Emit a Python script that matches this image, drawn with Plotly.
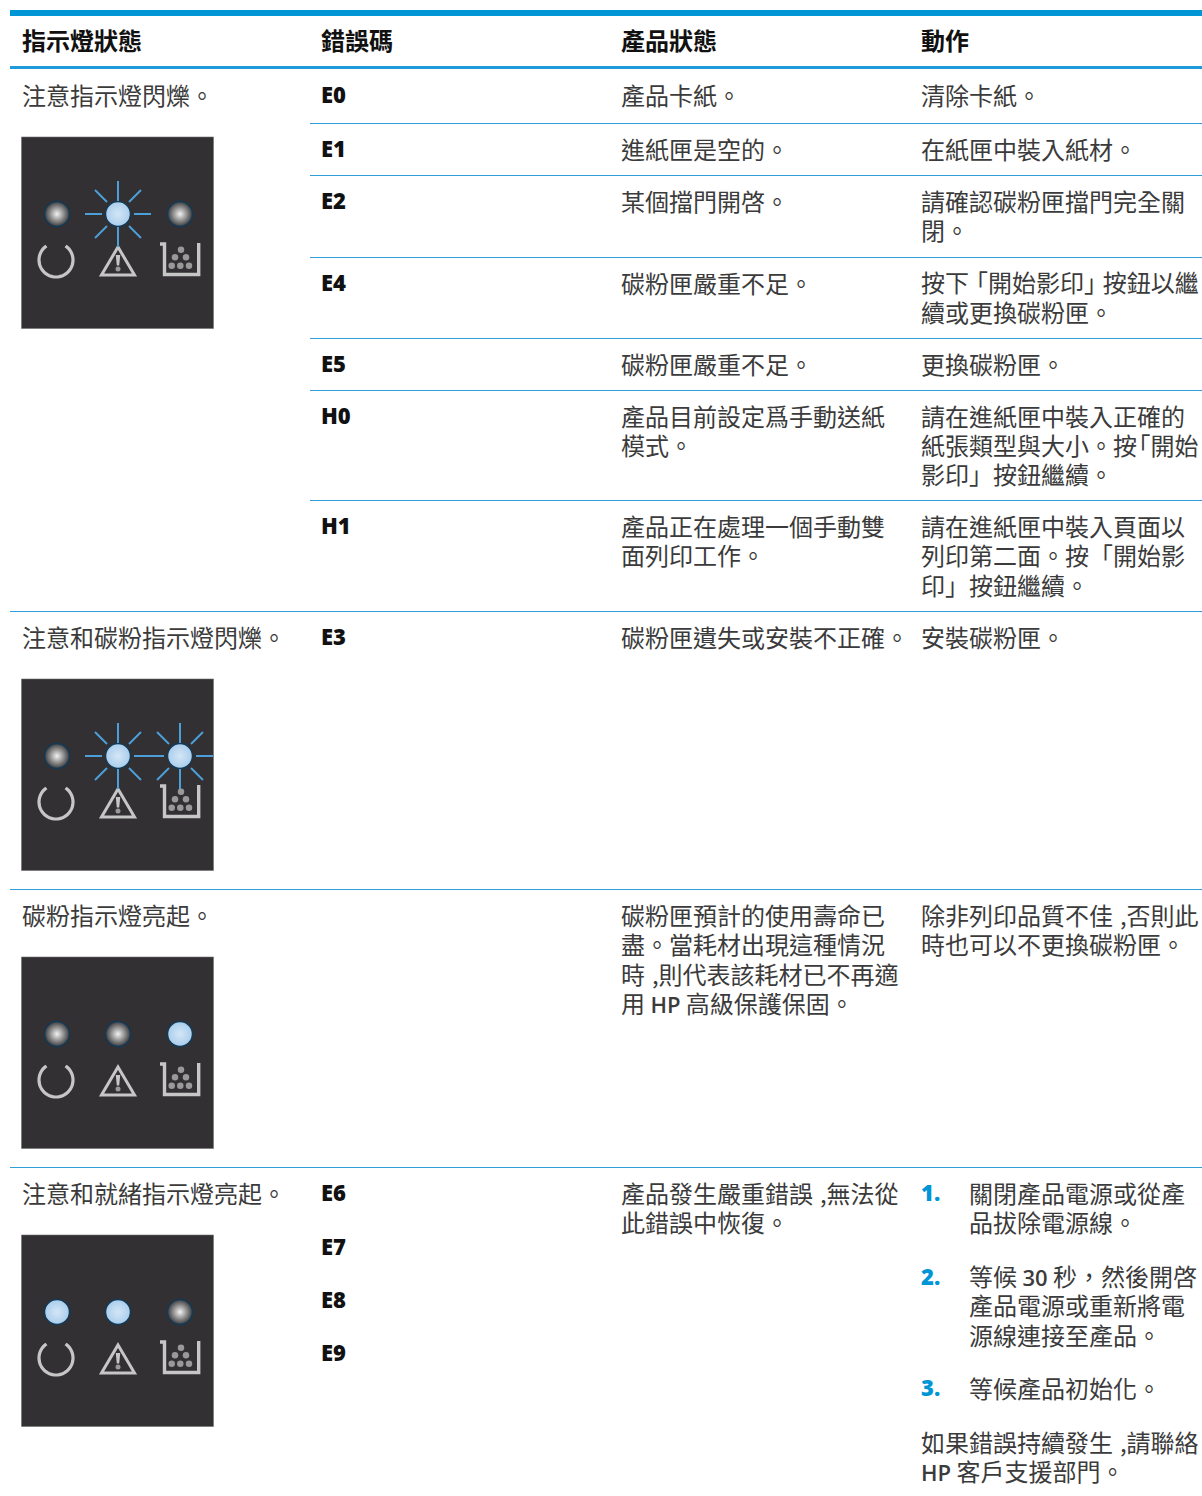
import math
import plotly.graph_objects as go

HEADERS = ["指示燈狀態", "錯誤碼", "產品狀態", "動作"]
HEADER_X = [22, 321, 621, 921]

LIGHT_STATUS = ["注意指示燈閃爍。", "注意和碳粉指示燈閃爍。", "碳粉指示燈亮起。", "注意和就緒指示燈亮起。"]
LIGHT_STATUS_Y = [96, 638, 916, 1194]

CODES = ["E0", "E1", "E2", "E4", "E5", "H0", "H1", "E3", "E6", "E7", "E8", "E9"]
CODES_Y = [96, 150, 202, 284, 365, 417, 527, 638, 1194, 1248, 1301, 1354]

HP = "<span style=\"font-family:'Open Sans';font-weight:600;font-size:22px\">HP</span>"
THIRTY = "<span style=\"font-family:'Open Sans';font-weight:600;font-size:22px\">30</span>"

STATE_TEXT = [
    (96, "產品卡紙。"), (150, "進紙匣是空的。"), (202, "某個擋門開啓。"),
    (284, "碳粉匣嚴重不足。"), (365, "碳粉匣嚴重不足。"),
    (417, "產品目前設定爲手動送紙"), (446, "模式。"),
    (527, "產品正在處理一個手動雙"), (556, "面列印工作。"),
    (638, "碳粉匣遺失或安裝不正確。"),
    (916, "碳粉匣預計的使用壽命已"), (945, "盡。當耗材出現這種情況"),
    (975, "時 \u200a,則代表該耗材已不再適"), (1004, f"用 {HP} 高級保護保固。"),
    (1194, "產品發生嚴重錯誤 \u200a,無法從"), (1223, "此錯誤中恢復。"),
]
ACTION_TEXT = [
    (96, "清除卡紙。"), (150, "在紙匣中裝入紙材。"),
    (202, "請確認碳粉匣擋門完全關"), (231, "閉。"),
    (283, "按下 \u200a｢開始影印｣\u200a 按鈕以繼"), (313, "續或更換碳粉匣。"),
    (365, "更換碳粉匣。"),
    (417, "請在進紙匣中裝入正確的"), (446, "紙張類型與大小。按\u200a｢開始"), (475, "影印」按鈕繼續。"),
    (527, "請在進紙匣中裝入頁面以"), (556, "列印第二面。按「開始影"), (586, "印」按鈕繼續。"),
    (638, "安裝碳粉匣。"),
    (916, "除非列印品質不佳 \u200a,否則此"), (945, "時也可以不更換碳粉匣。"),
    (1443, "如果錯誤持續發生 \u200a,請聯絡"), (1472, f"{HP} 客戶支援部門。"),
]
STEP_NUMBERS = [(1194, "1."), (1278, "2."), (1389, "3.")]
STEP_TEXT = [
    (1194, "關閉產品電源或從產"), (1223, "品拔除電源線。"),
    (1277, f"等候 {THIRTY} 秒，然後開啓"), (1306, "產品電源或重新將電"), (1336, "源線連接至產品。"),
    (1389, "等候產品初始化。"),
]

SUB_RULES = [123, 175, 257, 338, 390, 500]
MAIN_RULES = [611, 889, 1167]

PANEL_TOPS = [137, 679, 957, 1235]
# LED states per panel: (ready, attention, toner); 0 off, 1 on, 2 blinking
LED_STATES = [(0, 2, 0), (0, 2, 2), (0, 0, 1), (1, 1, 0)]

BLUE = "#0096D6"
RULE = "#2E9FDB"
INK = "#3b3b3b"
CJK = "'Noto Sans CJK TC', 'Noto Sans CJK JP', sans-serif"
LATIN = "'Open Sans', 'Noto Sans', sans-serif"

shapes = []
ann = []


def text(x, y, s, size=24, color=INK, family=CJK, weight=400):
    ann.append(dict(x=x, y=y, text=s, xref="x", yref="y", xanchor="left", yanchor="middle",
                    showarrow=False, xshift=-2, yshift=2,
                    font=dict(size=size, color=color, family=family, weight=weight)))


def line(x0, y0, x1, y1, color, width, layer="above"):
    shapes.append(dict(type="line", xref="x", yref="y", x0=x0, y0=y0, x1=x1, y1=y1, layer=layer,
                       line=dict(color=color, width=width)))


def rect(x0, y0, x1, y1, color):
    shapes.append(dict(type="rect", xref="x", yref="y", x0=x0, y0=y0, x1=x1, y1=y1, layer="below",
                       fillcolor=color, line=dict(width=0)))


# table rules
rect(10, 10, 1202, 16, BLUE)
rect(10, 66, 1202, 69, "#1E9BD8")
for y in SUB_RULES:
    line(310, y + 0.5, 1202, y + 0.5, RULE, 1, "below")
for y in MAIN_RULES:
    line(10, y + 0.5, 1202, y + 0.5, RULE, 1, "below")

# texts
for x, h in zip(HEADER_X, HEADERS):
    text(x, 41, h, weight=700, color="#111111")
for y, s in zip(LIGHT_STATUS_Y, LIGHT_STATUS):
    text(22, y, s)
for y, s in zip(CODES_Y, CODES):
    text(321, y, s, size=22, color="#111111", family=LATIN, weight=800)
for y, s in STATE_TEXT:
    text(621, y, s)
for y, s in ACTION_TEXT:
    text(921, y, s)
for y, s in STEP_NUMBERS:
    text(921, y, s, size=22, color=BLUE, family=LATIN, weight=800)
for y, s in STEP_TEXT:
    text(969, y, s)

# indicator panels
LED_X = [57, 118, 180]
ICON = "#C6C6C6"
RAY = "#4C9FD9"


def ring_path(cx, cy, r, start_deg, end_deg, n=48):
    pts = []
    for i in range(n + 1):
        a = math.radians(start_deg + (end_deg - start_deg) * i / n)
        pts.append((cx + r * math.cos(a), cy + r * math.sin(a)))
    return "M " + " L ".join(f"{px:.2f} {py:.2f}" for px, py in pts)


dots_x, dots_y, dots_s = [], [], []
for top, states in zip(PANEL_TOPS, LED_STATES):
    d = top - 137
    shapes.append(dict(type="rect", xref="x", yref="y", x0=21.5, y0=137 + d, x1=213.5, y1=328.5 + d,
                       layer="below", fillcolor="#323032", line=dict(color="#6e6e6e", width=0.6)))
    # power ring, open at the top
    shapes.append(dict(type="path", xref="x", yref="y", layer="below",
                       path=ring_path(56, 260 + d, 17, -56, 236),
                       line=dict(color=ICON, width=3.2)))
    # warning triangle
    shapes.append(dict(type="path", xref="x", yref="y", layer="below",
                       path=f"M 118 {247 + d} L 134.5 {275 + d} L 101.5 {275 + d} Z",
                       line=dict(color=ICON, width=3)))
    shapes.append(dict(type="path", xref="x", yref="y", layer="below",
                       path=f"M 115.8 {255 + d} L 120.2 {255 + d} L 119.2 {265.5 + d} L 116.8 {265.5 + d} Z",
                       fillcolor=ICON, line=dict(width=0)))
    # toner bucket
    shapes.append(dict(type="path", xref="x", yref="y", layer="below",
                       path=f"M 160 {244 + d} L 164.5 {244 + d} L 164.5 {274.5 + d} L 198.7 {274.5 + d} L 198.7 {243 + d}",
                       line=dict(color=ICON, width=3.4)))
    dots_x += [118, 171.7, 180.3, 189, 175, 186, 181]
    dots_y += [269 + d, 265.7 + d, 265.7 + d, 265.7 + d, 257.3 + d, 257.3 + d, 249.7 + d]
    dots_s += [5, 6.5, 6.5, 6.5, 6.5, 6.5, 6.5]
    for lx, st in zip(LED_X, states):
        if st == 2:
            cy = 214 + d
            for dx0, dy0, dx1, dy1 in [(0, -33, 0, -13), (0, 13, 0, 33), (-33, 0, -16, 0), (16, 0, 33, 0),
                                       (-23, -24, -11, -12), (11, -12, 23, -24), (-23, 24, -11, 12), (11, 12, 23, 24)]:
                line(lx + dx0, cy + dy0, lx + dx1, cy + dy1, RAY, 2)

fig = go.Figure()
fig.add_trace(go.Scatter(x=dots_x, y=dots_y, mode="markers", hoverinfo="skip",
                         marker=dict(color=ICON, size=dots_s, line=dict(width=0))))
lx, ly, lc, gc = [], [], [], []
for top, states in zip(PANEL_TOPS, LED_STATES):
    for x, st in zip(LED_X, states):
        lx.append(x)
        ly.append(214 + top - 137)
        lc.append("#A9CDEC" if st else "#3c3c3e")
        gc.append("#D4E6F6" if st else "#F2F2F2")
fig.add_trace(go.Scatter(x=lx, y=ly, mode="markers", hoverinfo="skip",
                         marker=dict(size=25, color=lc, line=dict(color="#123A58", width=1.5),
                                     gradient=dict(type="radial", color=gc))))

fig.update_layout(
    width=1202, height=1496, margin=dict(l=0, r=0, t=0, b=0), showlegend=False,
    paper_bgcolor="white", plot_bgcolor="rgba(0,0,0,0)",
    xaxis=dict(range=[0, 1202], visible=False, fixedrange=True),
    yaxis=dict(range=[1496, 0], visible=False, fixedrange=True),
    shapes=shapes, annotations=ann,
)
fig.write_html("out.html", config=dict(displayModeBar=False),
               post_script="document.body.style.margin='0';document.documentElement.style.overflow='hidden';")
